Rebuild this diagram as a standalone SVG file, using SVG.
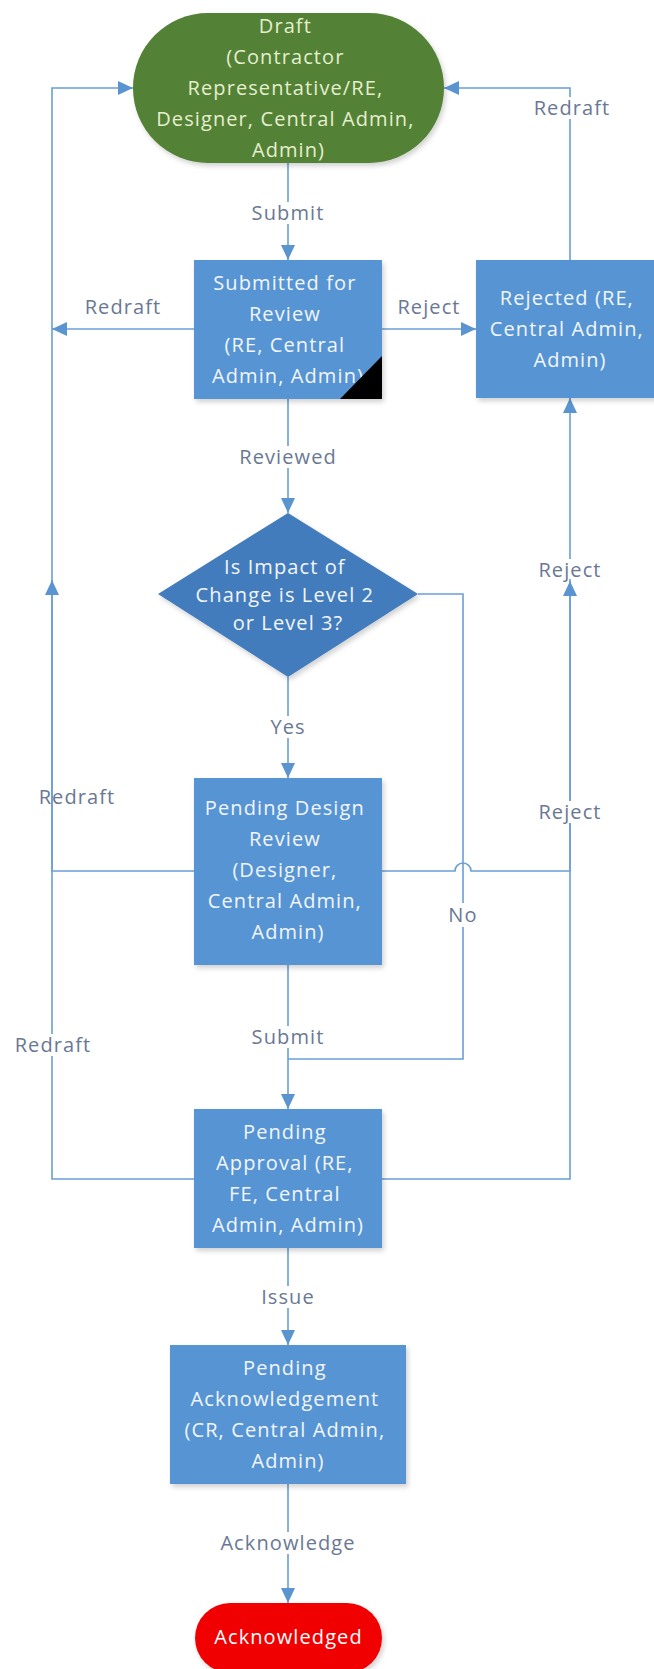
<svg xmlns="http://www.w3.org/2000/svg" width="654" height="1669" viewBox="0 0 654 1669">
  <defs>
    <style>
      .txt { font-family: "Open Sans", "Liberation Sans", Arial, sans-serif; font-size: 20px; letter-spacing: 1.1px; text-anchor: middle; }
      .box { fill: #5794d3; filter: url(#shadow); }
      .dec { fill: #427cbc; filter: url(#shadow); }
      .on-box { fill: #f2f6fb; }
      .on-green { fill: #e5efcf; }
      .on-red { fill: #ffffff; }
      .conn { fill: none; stroke: #6a9fd6; stroke-width: 1.6; }
      .lbl { fill: #6a7894; }
      .lbl-bg { fill: #ffffff; }
    </style>
    <marker id="arrow" markerUnits="userSpaceOnUse" markerWidth="16" markerHeight="14" refX="15" refY="7" orient="auto">
      <path d="M0,0 L15,7 L0,14 Z" fill="#5b95d1"/>
    </marker>
    <filter id="shadow" x="-10%" y="-10%" width="125%" height="130%">
      <feDropShadow dx="2" dy="3" stdDeviation="2.5" flood-color="#000" flood-opacity="0.18"/>
    </filter>
  </defs>

  <rect width="654" height="1669" fill="#ffffff"/>

  <!-- connectors -->
  <g id="connectors">
    <!-- main vertical flow -->
    <path class="conn" d="M288,163 V260" marker-end="url(#arrow)"/>
    <path class="conn" d="M288,399 V513" marker-end="url(#arrow)"/>
    <path class="conn" d="M288,677 V778" marker-end="url(#arrow)"/>
    <path class="conn" d="M288,965 V1109" marker-end="url(#arrow)"/>
    <path class="conn" d="M288,1248 V1345" marker-end="url(#arrow)"/>
    <path class="conn" d="M288,1484 V1603" marker-end="url(#arrow)"/>
    <!-- decision "No" branch joining the main line -->
    <path class="conn" d="M418,594 H463 V1059 H288"/>
    <!-- submitted: redraft / reject -->
    <path class="conn" d="M194,329 H52" marker-end="url(#arrow)"/>
    <path class="conn" d="M382,329 H476" marker-end="url(#arrow)"/>
    <!-- rejected back to draft -->
    <path class="conn" d="M570,260 V88 H444" marker-end="url(#arrow)"/>
    <!-- left redraft returns -->
    <path class="conn" d="M194,871 H52 V88 H133" marker-end="url(#arrow)"/>
    <path class="conn" d="M194,1179 H52 V580" marker-end="url(#arrow)"/>
    <!-- right reject returns (with line hop over the No branch) -->
    <path class="conn" d="M381,871 H455 A8,8 0 0 1 471,871 H570 V398" marker-end="url(#arrow)"/>
    <path class="conn" d="M381,1179 H570 V581" marker-end="url(#arrow)"/>
  </g>

  <!-- connector labels -->
  <g id="labels" class="txt">
    <rect class="lbl-bg" x="249" y="202" width="78" height="22"/>
    <text class="lbl" x="288" y="220">Submit</text>

    <rect class="lbl-bg" x="82" y="296" width="82" height="22"/>
    <text class="lbl" x="123" y="314">Redraft</text>

    <rect class="lbl-bg" x="395" y="296" width="68" height="22"/>
    <text class="lbl" x="429" y="314">Reject</text>

    <rect class="lbl-bg" x="531" y="97" width="82" height="22"/>
    <text class="lbl" x="572" y="115">Redraft</text>

    <rect class="lbl-bg" x="238" y="446" width="100" height="22"/>
    <text class="lbl" x="288" y="464">Reviewed</text>

    <rect class="lbl-bg" x="268" y="716" width="40" height="22"/>
    <text class="lbl" x="288" y="734">Yes</text>

    <text class="lbl" x="77" y="804">Redraft</text>

    <rect class="lbl-bg" x="536" y="559" width="68" height="20"/>
    <text class="lbl" x="570" y="577">Reject</text>

    <rect class="lbl-bg" x="536" y="801" width="68" height="22"/>
    <text class="lbl" x="570" y="819">Reject</text>

    <rect class="lbl-bg" x="446" y="903" width="34" height="24"/>
    <text class="lbl" x="463" y="922">No</text>

    <rect class="lbl-bg" x="249" y="1026" width="78" height="22"/>
    <text class="lbl" x="288" y="1044">Submit</text>

    <rect class="lbl-bg" x="12" y="1034" width="82" height="22"/>
    <text class="lbl" x="53" y="1052">Redraft</text>

    <rect class="lbl-bg" x="259" y="1286" width="58" height="22"/>
    <text class="lbl" x="288" y="1304">Issue</text>

    <rect class="lbl-bg" x="218" y="1532" width="140" height="22"/>
    <text class="lbl" x="288" y="1550">Acknowledge</text>
  </g>

  <!-- nodes -->
  <g id="draft">
    <rect x="133" y="13" width="311" height="150" rx="75" ry="75" fill="#538135" filter="url(#shadow)"/>
    <text class="txt on-green">
      <tspan x="288.5" y="33">Draft</tspan>
      <tspan x="288.5" y="64">(Contractor</tspan>
      <tspan x="288.5" y="95">Representative/RE,</tspan>
      <tspan x="288.5" y="126">Designer, Central Admin,</tspan>
      <tspan x="288.5" y="157">Admin)</tspan>
    </text>
  </g>

  <g id="submitted-for-review">
    <rect class="box" x="194" y="260" width="188" height="139"/>
    <text class="txt on-box">
      <tspan x="288" y="290">Submitted for</tspan>
      <tspan x="288" y="321">Review</tspan>
      <tspan x="288" y="352">(RE, Central</tspan>
      <tspan x="288" y="383">Admin, Admin)</tspan>
    </text>
    <polygon points="340,399 382,356 382,399" fill="#000000"/>
  </g>

  <g id="rejected">
    <rect class="box" x="476" y="260" width="188" height="138"/>
    <text class="txt on-box">
      <tspan x="570" y="305">Rejected (RE,</tspan>
      <tspan x="570" y="336">Central Admin,</tspan>
      <tspan x="570" y="367">Admin)</tspan>
    </text>
  </g>

  <g id="impact-decision">
    <polygon class="dec" points="288,513 418,594 288,677 158,594"/>
    <text class="txt on-box">
      <tspan x="288" y="574">Is Impact of</tspan>
      <tspan x="288" y="602">Change is Level 2</tspan>
      <tspan x="288" y="630">or Level 3?</tspan>
    </text>
  </g>

  <g id="pending-design-review">
    <rect class="box" x="194" y="778" width="188" height="187"/>
    <text class="txt on-box">
      <tspan x="288" y="815">Pending Design</tspan>
      <tspan x="288" y="846">Review</tspan>
      <tspan x="288" y="877">(Designer,</tspan>
      <tspan x="288" y="908">Central Admin,</tspan>
      <tspan x="288" y="939">Admin)</tspan>
    </text>
  </g>

  <g id="pending-approval">
    <rect class="box" x="194" y="1109" width="188" height="139"/>
    <text class="txt on-box">
      <tspan x="288" y="1139">Pending</tspan>
      <tspan x="288" y="1170">Approval (RE,</tspan>
      <tspan x="288" y="1201">FE, Central</tspan>
      <tspan x="288" y="1232">Admin, Admin)</tspan>
    </text>
  </g>

  <g id="pending-acknowledgement">
    <rect class="box" x="170" y="1345" width="236" height="139"/>
    <text class="txt on-box">
      <tspan x="288" y="1375">Pending</tspan>
      <tspan x="288" y="1406">Acknowledgement</tspan>
      <tspan x="288" y="1437">(CR, Central Admin,</tspan>
      <tspan x="288" y="1468">Admin)</tspan>
    </text>
  </g>

  <g id="acknowledged">
    <rect x="195" y="1603" width="187" height="70" rx="35" ry="35" fill="#f00000" filter="url(#shadow)"/>
    <text class="txt on-red" x="288.5" y="1644">Acknowledged</text>
  </g>
</svg>
